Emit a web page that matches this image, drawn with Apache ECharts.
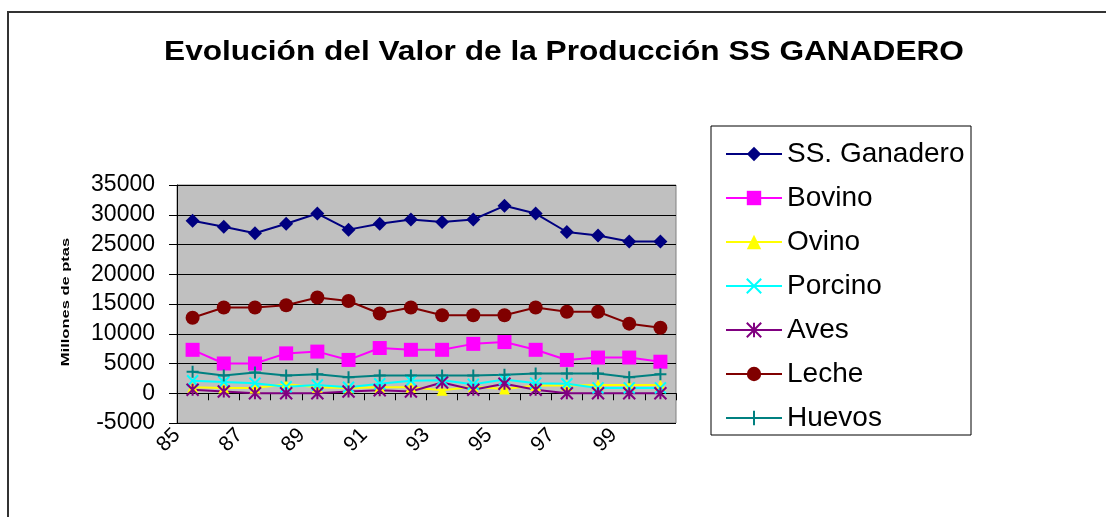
<!DOCTYPE html>
<html>
<head>
<meta charset="utf-8">
<title>Evolución del Valor de la Producción SS GANADERO</title>
<script src="https://cdn.jsdelivr.net/npm/echarts@6/dist/echarts.min.js"></script>
<style>
  html, body { margin: 0; padding: 0; background: #fff; }
  #chart { width: 1106px; height: 517px; }
</style>
</head>
<body>
<div id="chart"></div>
<script>
// years on the category axis
const years = ['85', '86', '87', '88', '89', '90', '91', '92', '93', '94', '95', '96', '97', '98', '99', '00']
// labels printed under the plot, every other year
const yearLabels = ['85', '87', '89', '91', '93', '95', '97', '99']

// Millones de ptas
const ssGanadero = [29000, 28000, 26900, 28500, 30200, 27500, 28500, 29200, 28800, 29200, 31500, 30200, 27100, 26500, 25500, 25500]
const bovino = [7300, 5000, 5000, 6700, 7000, 5600, 7600, 7300, 7300, 8300, 8600, 7300, 5600, 6000, 6000, 5300]
const ovino = [1000, 900, 900, 1500, 1000, 900, 1000, 1000, 500, 1100, 700, 1300, 1300, 1400, 1400, 1400]
const porcino = [2100, 1900, 1700, 1100, 1400, 1000, 1600, 2100, 2200, 1500, 2300, 1700, 1600, 900, 900, 900]
const aves = [600, 300, 0, 0, 0, 300, 500, 300, 1800, 600, 1600, 600, 0, 0, 0, 0]
const leche = [12700, 14400, 14400, 14800, 16100, 15500, 13400, 14400, 13100, 13100, 13100, 14400, 13700, 13700, 11700, 11000]
const huevos = [3600, 3000, 3500, 3000, 3200, 2700, 3000, 3000, 3000, 3000, 3100, 3300, 3300, 3300, 2700, 3200]

const font = 'Liberation Sans, Arial, sans-serif'
const crossPath = 'path://M0,0L10,10M10,0L0,10'
const starPath = 'path://M0,0L10,10M10,0L0,10M5,0L5,10'
const plusPath = 'path://M5,0L5,10M0,5L10,5'

function makeLine (name, data, color, symbol, size, stroked) {
  let item = {
    name: name,
    type: 'line',
    data: data,
    xAxisIndex: 0,
    symbol: symbol,
    symbolSize: size,
    showSymbol: true,
    showAllSymbol: true,
    lineStyle: { color: color, width: 2 },
    itemStyle: { color: color },
    emphasis: { disabled: true }
  }
  if (stroked) {
    item.itemStyle = { color: color, borderColor: color, borderWidth: 2 }
  }
  return item
}

let chartDom = document.getElementById('chart')
let myChart = echarts.init(chartDom)

let option = {
  animation: false,
  backgroundColor: '#fff',
  legend: {
    orient: 'vertical',
    left: 720,
    top: 135,
    itemWidth: 56,
    itemHeight: 18,
    itemGap: 16,
    textStyle: { fontFamily: font, fontSize: 28, color: '#000', lineHeight: 28 },
    data: ['SS. Ganadero', 'Bovino', 'Ovino', 'Porcino', 'Aves', 'Leche', 'Huevos']
  },
  grid: {
    left: 177,
    top: 185,
    right: 430,
    bottom: 94,
    show: true,
    backgroundColor: '#c0c0c0',
    borderColor: '#808080',
    borderWidth: 1
  },
  xAxis: [
    {
      type: 'category',
      data: years,
      boundaryGap: true,
      axisLine: { onZero: true, lineStyle: { color: '#000', width: 1 } },
      axisTick: { show: true, length: 7, lineStyle: { color: '#000' } },
      axisLabel: { show: false },
      splitLine: { show: false }
    },
    {
      type: 'value',
      position: 'bottom',
      min: 0,
      max: 16,
      interval: 2,
      axisLine: { show: false },
      axisTick: { show: false },
      splitLine: { show: false },
      axisLabel: {
        rotate: 45,
        margin: 9,
        fontFamily: font,
        fontSize: 21,
        color: '#000',
        formatter: function (value) {
          return yearLabels[value / 2] || ''
        }
      }
    }
  ],
  yAxis: {
    type: 'value',
    min: -5000,
    max: 35000,
    interval: 5000,
    axisLine: { show: true, lineStyle: { color: '#000' } },
    axisTick: { show: true, length: 8, lineStyle: { color: '#000' } },
    splitLine: { show: true, lineStyle: { color: '#000', width: 1 } },
    axisLabel: {
      fontFamily: font,
      fontSize: 23,
      color: '#000',
      margin: 22,
      formatter: function (value) {
        // plain numbers, no thousands separator
        return String(value)
      }
    }
  },
  graphic: [
    {
      type: 'rect',
      shape: { x: 8, y: 12, width: 1200, height: 600 },
      style: { fill: 'none', stroke: '#333', lineWidth: 2 },
      silent: true
    },
    {
      type: 'rect',
      shape: { x: 711, y: 126, width: 260, height: 309 },
      style: { fill: 'none', stroke: '#000', lineWidth: 1 },
      silent: true
    },
    {
      // title, stretched a little like the original
      type: 'text',
      x: 564,
      y: 52,
      scaleX: 1.13,
      style: {
        text: 'Evolución del Valor de la Producción SS GANADERO',
        fontFamily: font,
        fontSize: 28,
        fontWeight: 'bold',
        fill: '#000',
        textAlign: 'center',
        textVerticalAlign: 'middle'
      },
      silent: true
    },
    {
      type: 'text',
      x: 66,
      y: 302,
      rotation: Math.PI / 2,
      scaleX: 1.5,
      style: {
        text: 'Millones de ptas',
        fontFamily: font,
        fontSize: 11,
        fontWeight: 'bold',
        fill: '#000',
        textAlign: 'center',
        textVerticalAlign: 'middle'
      },
      silent: true
    }
  ],
  series: [
    makeLine('SS. Ganadero', ssGanadero, '#000080', 'diamond', 14, false),
    makeLine('Bovino', bovino, '#ff00ff', 'rect', 14, false),
    makeLine('Ovino', ovino, '#ffff00', 'triangle', 11, false),
    makeLine('Porcino', porcino, '#00ffff', crossPath, 11, true),
    makeLine('Aves', aves, '#800080', starPath, 12, true),
    makeLine('Leche', leche, '#800000', 'circle', 14, false),
    makeLine('Huevos', huevos, '#008080', plusPath, 12, true)
  ]
}
myChart.setOption(option, true)
</script>
</body>
</html>
